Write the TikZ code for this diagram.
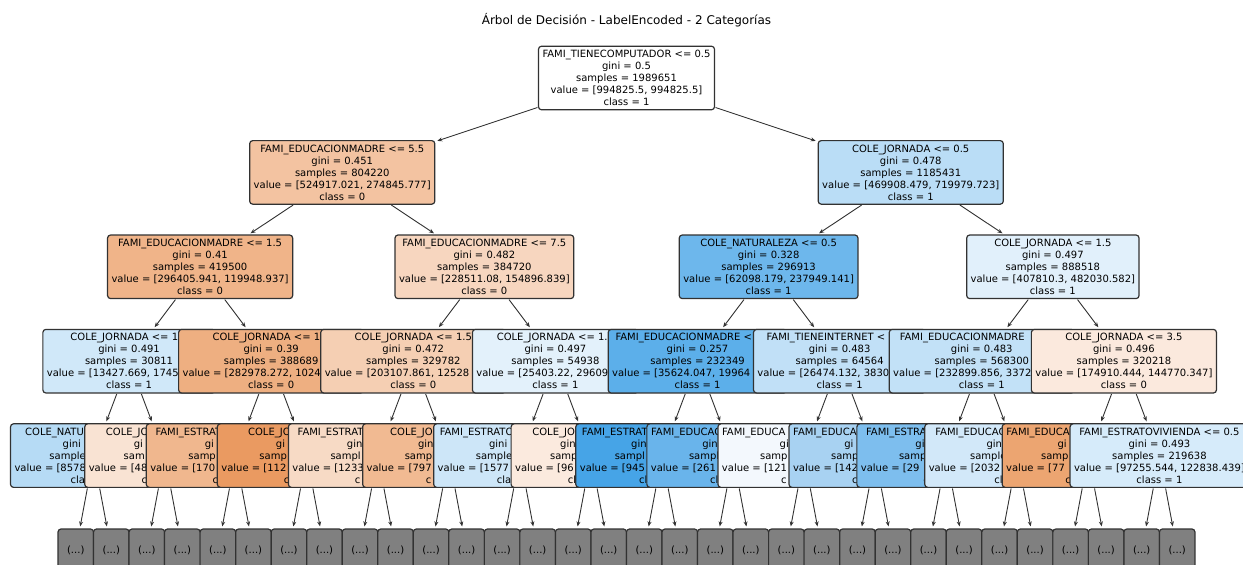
\documentclass[tikz,border=0pt]{standalone}
\usepackage{fontspec}
\setmainfont{DejaVu Sans}
\usepackage{calc}
\usetikzlibrary{arrows.meta}
\newcommand\vpart[2]{\makebox[\widthof{#2}][l]{#1}}
% level colours
\definecolor{croot}{RGB}{255,255,255}
\definecolor{cca}{RGB}{243,195,161}
\definecolor{ccb}{RGB}{186,221,246}
\definecolor{cda}{RGB}{240,180,137}
\definecolor{cdb}{RGB}{247,214,191}
\definecolor{cdc}{RGB}{109,183,236}
\definecolor{cdd}{RGB}{225,240,251}
\definecolor{cea}{RGB}{208,232,249}
\definecolor{ceb}{RGB}{238,175,129}
\definecolor{cec}{RGB}{245,207,179}
\definecolor{ced}{RGB}{227,241,251}
\definecolor{cee}{RGB}{92,175,234}
\definecolor{cef}{RGB}{193,224,247}
\definecolor{ceg}{RGB}{194,225,247}
\definecolor{ceh}{RGB}{251,233,221}
\definecolor{cf0}{RGB}{182,219,245}
\definecolor{cf1}{RGB}{249,227,211}
\definecolor{cf2}{RGB}{240,183,142}
\definecolor{cf3}{RGB}{234,154,97}
\definecolor{cf4}{RGB}{247,218,197}
\definecolor{cf5}{RGB}{241,186,146}
\definecolor{cf6}{RGB}{205,230,248}
\definecolor{cf7}{RGB}{251,234,222}
\definecolor{cf8}{RGB}{70,164,231}
\definecolor{cf9}{RGB}{105,180,235}
\definecolor{cf10}{RGB}{243,248,253}
\definecolor{cf11}{RGB}{168,210,242}
\definecolor{cf12}{RGB}{125,190,238}
\definecolor{cf13}{RGB}{210,232,249}
\definecolor{cf14}{RGB}{236,165,113}
\definecolor{cf15}{RGB}{214,235,250}
\definecolor{gry}{RGB}{128,128,128}
\definecolor{edge}{RGB}{50,50,50}
\tikzset{
  tn/.style={draw=edge, line width=1.2pt, rounded corners=3pt, align=center,
    inner xsep=4pt, inner ysep=4pt, font=\fontsize{10}{12}\selectfont, text=black},
  gn/.style={draw=edge, line width=1.2pt, rounded corners=3pt, fill=gry,
    minimum width=35.53pt, minimum height=42pt, inner sep=0pt,
    font=\fontsize{10}{12}\selectfont, text=black},
  ar/.style={draw=edge, line width=0.9pt, -{Stealth[length=5pt,width=4pt]},
    shorten >=2pt, shorten <=0.5pt}
}
\begin{document}
\begin{tikzpicture}[x=1pt,y=-1pt]
\useasboundingbox (0,0) rectangle (1243,565);
\clip (0,0) rectangle (1243,565);
\fill[white] (0,0) rectangle (1243,565);

\node[font=\fontsize{12}{14}\selectfont, text=black] (title) at (626.5,20) {Árbol de Decisión - LabelEncoded - 2 Categorías};

% root
\node[tn, fill=croot] (r) at (626.5,78) {FAMI\_TIENECOMPUTADOR <= 0.5\\gini = 0.5\\samples = 1989651\\value = [994825.5, 994825.5]\\class = 1};

% level 1
\node[tn, fill=cca] (c0) at (342.25,172.4) {FAMI\_EDUCACIONMADRE <= 5.5\\gini = 0.451\\samples = 804220\\value = [524917.021, 274845.777]\\class = 0};
\node[tn, fill=ccb] (c1) at (910.75,172.4) {COLE\_JORNADA <= 0.5\\gini = 0.478\\samples = 1185431\\value = [469908.479, 719979.723]\\class = 1};

% level 2
\node[tn, fill=cda] (d0) at (200.12,266.8) {FAMI\_EDUCACIONMADRE <= 1.5\\gini = 0.41\\samples = 419500\\value = [296405.941, 119948.937]\\class = 0};
\node[tn, fill=cdb] (d1) at (484.37,266.8) {FAMI\_EDUCACIONMADRE <= 7.5\\gini = 0.482\\samples = 384720\\value = [228511.08, 154896.839]\\class = 0};
\node[tn, fill=cdc] (d2) at (768.62,266.8) {COLE\_NATURALEZA <= 0.5\\gini = 0.328\\samples = 296913\\value = [62098.179, 237949.141]\\class = 1};
\node[tn, fill=cdd] (d3) at (1052.87,266.8) {COLE\_JORNADA <= 1.5\\gini = 0.497\\samples = 888518\\value = [407810.3, 482030.582]\\class = 1};

% level 3
\node[tn, fill=cea] (e0) at (129.06,361.2) {\vpart{COLE\_JORNADA <= 1}{COLE\_JORNADA <= 1.5}\\gini = 0.491\\samples = 30811\\\vpart{value = [13427.669, 1745}{value = [13427.669, 17454.000]}\\class = 1};
\node[tn, fill=ceb] (e1) at (271.18,361.2) {\vpart{COLE\_JORNADA <= 1}{COLE\_JORNADA <= 1.5}\\gini = 0.39\\samples = 388689\\\vpart{value = [282978.272, 1024}{value = [282978.272, 102494.000]}\\class = 0};
\node[tn, fill=cec] (e2) at (413.30,361.2) {COLE\_JORNADA <= 1.5\\gini = 0.472\\samples = 329782\\\vpart{value = [203107.861, 12528}{value = [203107.861, 125287.000]}\\class = 0};
\node[tn, fill=ced] (e3) at (555.42,361.2) {\vpart{COLE\_JORNADA <= 1.5}{COLE\_JORNADA <= 1.5}\\gini = 0.497\\samples = 54938\\\vpart{value = [25403.22, 29609}{value = [25403.22, 29609.000]}\\class = 1};
\node[tn, fill=cee] (e4) at (697.54,361.2) {\vpart{FAMI\_EDUCACIONMADRE <}{FAMI\_EDUCACIONMADRE <= 5.5}\\gini = 0.257\\samples = 232349\\\vpart{value = [35624.047, 19964}{value = [35624.047, 199640.000]}\\class = 1};
\node[tn, fill=cef] (e5) at (839.66,361.2) {\vpart{FAMI\_TIENEINTERNET <}{FAMI\_TIENEINTERNET <= 0.5}\\gini = 0.483\\samples = 64564\\\vpart{value = [26474.132, 3830}{value = [26474.132, 38309.000]}\\class = 1};
\node[tn, fill=ceg] (e6) at (981.78,361.2) {\vpart{FAMI\_EDUCACIONMADRE}{FAMI\_EDUCACIONMADRE <= 5.5}\\gini = 0.483\\samples = 568300\\\vpart{value = [232899.856, 3372}{value = [232899.856, 337260.235]}\\class = 1};
\node[tn, fill=ceh] (e7) at (1123.90,361.2) {COLE\_JORNADA <= 3.5\\gini = 0.496\\samples = 320218\\value = [174910.444, 144770.347]\\class = 0};

% level 4
\node[tn, fill=cf0] (f0) at (93.53,455.6) {\vpart{COLE\_NATU}{COLE\_NATURALEZA <= 0.5}\\\vpart{gini}{gini = 0.000}\\\vpart{sample}{samples = 00000}\\\vpart{value = [8578}{value = [0000.000, 00000.000]}\\\vpart{cla}{class = 1}};
\node[tn, fill=cf1] (f1) at (164.59,455.6) {\vpart{COLE\_JO}{COLE\_JORNADA <= 2.5}\\\vpart{gi}{gini = 0.000}\\\vpart{sam}{samples = 0000}\\\vpart{value = [48}{value = [0000.000, 0000.000]}\\\vpart{c}{class = 0}};
\node[tn, fill=cf2] (f2) at (235.65,455.6) {\vpart{FAMI\_ESTRAT}{FAMI\_ESTRATOVIVIENDA <= 1.5}\\\vpart{gi}{gini = 0.000}\\\vpart{samp}{samples = 000000}\\\vpart{value = [170}{value = [000000.000, 00000.000]}\\\vpart{c}{class = 0}};
\node[tn, fill=cf3] (f3) at (306.71,455.6) {\vpart{COLE\_JO}{COLE\_JORNADA <= 2.5}\\\vpart{gi}{gini = 0.000}\\\vpart{samp}{samples = 000000}\\\vpart{value = [112}{value = [000000.000, 00000.000]}\\\vpart{c}{class = 0}};
\node[tn, fill=cf4] (f4) at (377.77,455.6) {\vpart{FAMI\_ESTRAT}{FAMI\_ESTRATOVIVIENDA <= 1.5}\\\vpart{gin}{gini = 0.000}\\\vpart{sampl}{samples = 000000}\\\vpart{value = [1233}{value = [000000.000, 00000.000]}\\\vpart{c}{class = 0}};
\node[tn, fill=cf5] (f5) at (448.83,455.6) {\vpart{COLE\_JO}{COLE\_JORNADA <= 2.5}\\\vpart{gin}{gini = 0.000}\\\vpart{sampl}{samples = 00000}\\\vpart{value = [797}{value = [00000.000, 00000.000]}\\\vpart{c}{class = 0}};
\node[tn, fill=cf6] (f6) at (519.89,455.6) {\vpart{FAMI\_ESTRATO}{FAMI\_ESTRATOVIVIENDA <= 1.5}\\\vpart{gini}{gini = 0.000}\\\vpart{sample}{samples = 00000}\\\vpart{value = [1577}{value = [00000.000, 00000.000]}\\\vpart{cla}{class = 1}};
\node[tn, fill=cf7] (f7) at (590.95,455.6) {\vpart{COLE\_JO}{COLE\_JORNADA <= 2.5}\\\vpart{gin}{gini = 0.000}\\\vpart{samp}{samples = 0000}\\\vpart{value = [96}{value = [0000.000, 0000.000]}\\\vpart{cl}{class = 0}};
\node[tn, fill=cf8] (f8) at (662.01,455.6) {\vpart{FAMI\_ESTRAT}{FAMI\_ESTRATOVIVIENDA <= 1.5}\\\vpart{gin}{gini = 0.000}\\\vpart{sampl}{samples = 000000}\\\vpart{value = [945}{value = [0000.000, 000000.000]}\\\vpart{cl}{class = 1}};
\node[tn, fill=cf9] (f9) at (733.07,455.6) {\vpart{FAMI\_EDUCAC}{FAMI\_EDUCACIONMADRE <= 5.5}\\\vpart{gin}{gini = 0.000}\\\vpart{sampl}{samples = 00000}\\\vpart{value = [261}{value = [00000.000, 00000.000]}\\\vpart{cl}{class = 1}};
\node[tn, fill=cf10] (f10) at (804.13,455.6) {\vpart{FAMI\_EDUCA}{FAMI\_EDUCACIONMADRE <= 5.5}\\\vpart{gi}{gini = 0.5}\\\vpart{samp}{samples = 00000}\\\vpart{value = [121}{value = [00000.000, 00000.000]}\\\vpart{c}{class = 1}};
\node[tn, fill=cf11] (f11) at (875.19,455.6) {\vpart{FAMI\_EDUCAC}{FAMI\_EDUCACIONMADRE <= 5.5}\\\vpart{gi}{gini = 0.000}\\\vpart{samp}{samples = 00000}\\\vpart{value = [142}{value = [00000.000, 00000.000]}\\\vpart{c}{class = 1}};
\node[tn, fill=cf12] (f12) at (946.25,455.6) {\vpart{FAMI\_ESTRA}{FAMI\_ESTRATOVIVIENDA <= 1.5}\\\vpart{gi}{gini = 0.000}\\\vpart{samp}{samples = 000000}\\\vpart{value = [29}{value = [00000.000, 000000.000]}\\\vpart{c}{class = 1}};
\node[tn, fill=cf13] (f13) at (1017.31,455.6) {\vpart{FAMI\_EDUCAC}{FAMI\_EDUCACIONMADRE <= 5.5}\\\vpart{gin}{gini = 0.000}\\\vpart{sample}{samples = 000000}\\\vpart{value = [2032}{value = [000000.000, 000000.000]}\\\vpart{cl}{class = 1}};
\node[tn, fill=cf14] (f14) at (1088.37,455.6) {\vpart{FAMI\_EDUCA}{FAMI\_EDUCACIONMADRE <= 5.5}\\\vpart{gi}{gini = 0.000}\\\vpart{samp}{samples = 000000}\\\vpart{value = [77}{value = [77654.900, 21931.908]}\\\vpart{c}{class = 0}};
\node[tn, fill=cf15] (f15) at (1159.43,455.6) {FAMI\_ESTRATOVIVIENDA <= 0.5\\gini = 0.493\\samples = 219638\\value = [97255.544, 122838.439]\\class = 1};

% level 5 (truncated)
\foreach \m in {0,...,31}
  \node[gn] (g\m) at ({58+35.53*(\m+0.5)},550) {(...)};

% connectors
\draw[ar] (r) -- (c0);
\draw[ar] (r) -- (c1);
\draw[ar] (c0) -- (d0);
\draw[ar] (c0) -- (d1);
\draw[ar] (c1) -- (d2);
\draw[ar] (c1) -- (d3);
\foreach \i [evaluate=\i as \a using int(2*\i), evaluate=\i as \b using int(2*\i+1)] in {0,...,3} {
  \draw[ar] (d\i) -- (e\a);
  \draw[ar] (d\i) -- (e\b);
}
\foreach \i [evaluate=\i as \a using int(2*\i), evaluate=\i as \b using int(2*\i+1)] in {0,...,7} {
  \draw[ar] (e\i) -- (f\a);
  \draw[ar] (e\i) -- (f\b);
}
\foreach \i [evaluate=\i as \a using int(2*\i), evaluate=\i as \b using int(2*\i+1)] in {0,...,15} {
  \draw[ar] (f\i) -- (g\a);
  \draw[ar] (f\i) -- (g\b);
}
\end{tikzpicture}
\end{document}
